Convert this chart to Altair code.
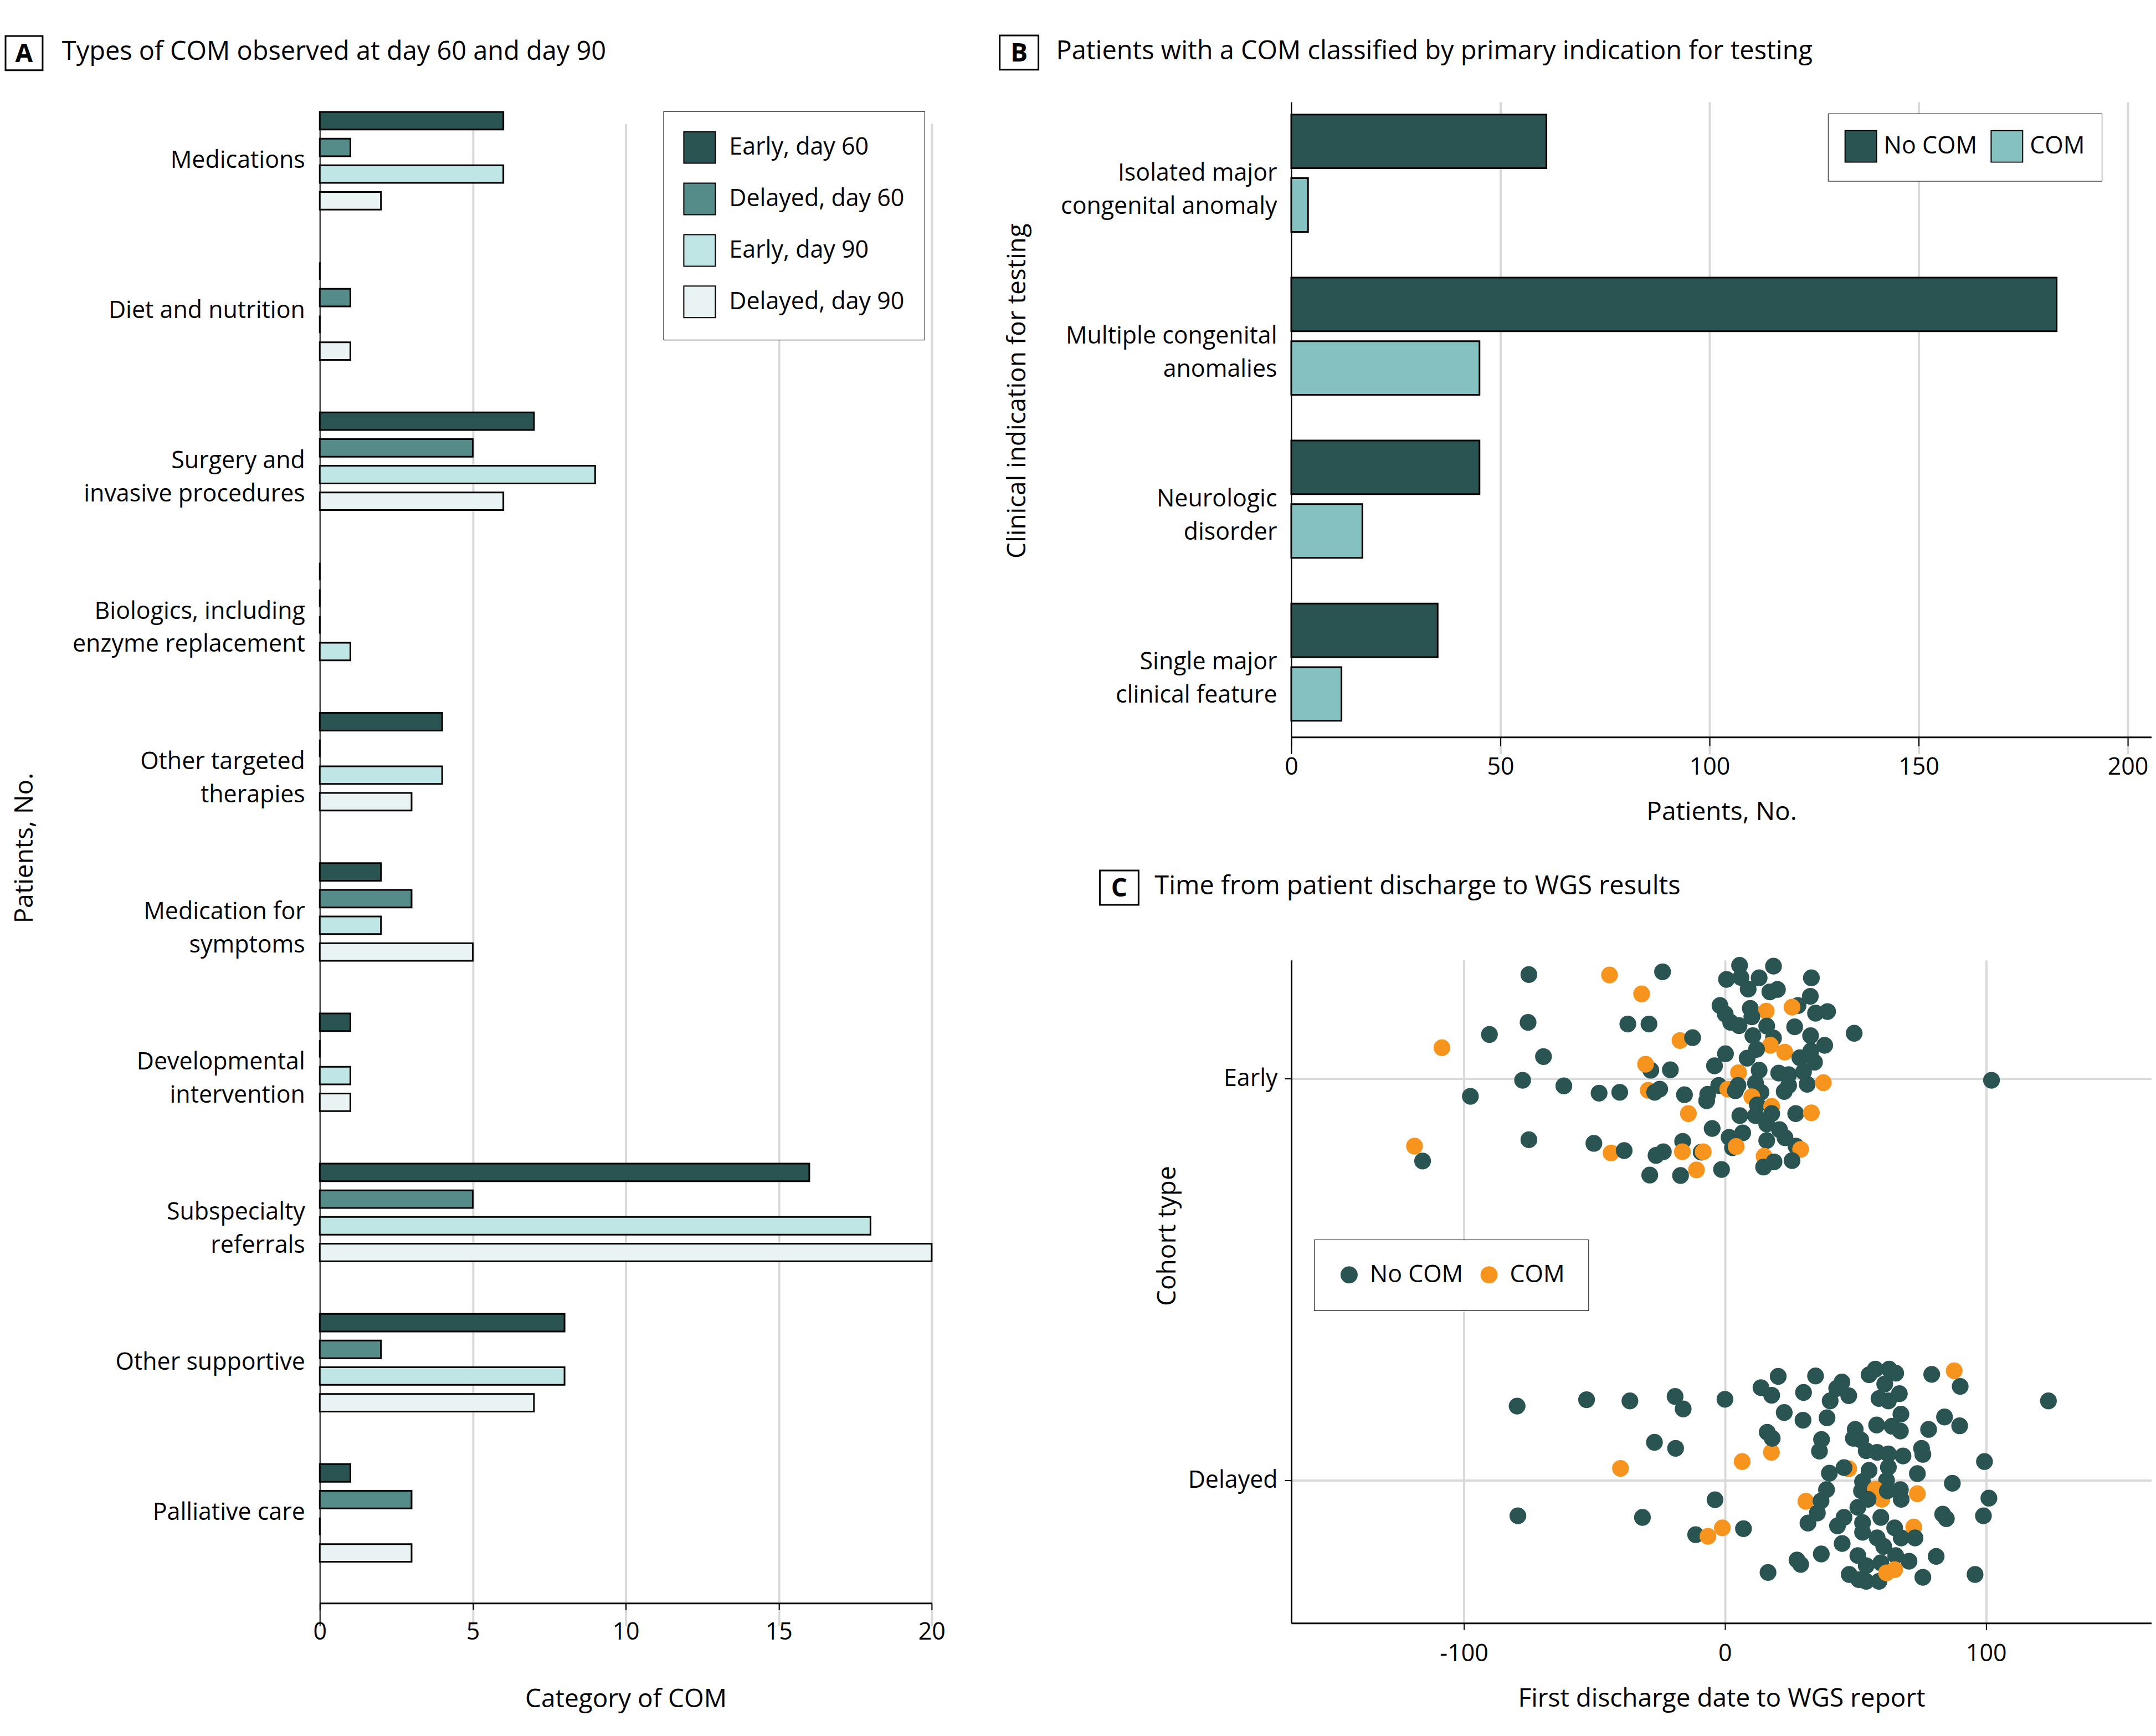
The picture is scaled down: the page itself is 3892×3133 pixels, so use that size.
import altair as alt
import pandas as pd

FONT = "Open Sans"
GRID = "#d9d9d9"
DARK = "#2a5452"

# ---------------- Panel A data ----------------
a_categories = [
    "Medications",
    "Diet and nutrition",
    "Surgery and|invasive procedures",
    "Biologics, including|enzyme replacement",
    "Other targeted|therapies",
    "Medication for|symptoms",
    "Developmental|intervention",
    "Subspecialty|referrals",
    "Other supportive",
    "Palliative care",
]
a_groups = ["Early, day 60", "Delayed, day 60", "Early, day 90", "Delayed, day 90"]
a_colors = [DARK, "#558c8a", "#bfe6e4", "#e9f3f4"]
a_early60 = [6, 0, 7, 0, 4, 2, 1, 16, 8, 1]
a_delayed60 = [1, 1, 5, 0, 0, 3, 0, 5, 2, 3]
a_early90 = [6, 0, 9, 0, 4, 2, 1, 18, 8, 0]
a_delayed90 = [2, 1, 6, 1, 3, 5, 1, 20, 7, 3]
# fill used in the original drawing for the Delayed, day 90 bars
a_delayed90_fill = ["Delayed, day 90", "Delayed, day 90", "Delayed, day 90", "Early, day 90",
                    "Delayed, day 90", "Delayed, day 90", "Delayed, day 90", "Delayed, day 90",
                    "Delayed, day 90", "Delayed, day 90"]

# ---------------- Panel B data ----------------
b_categories = [
    "Isolated major|congenital anomaly",
    "Multiple congenital|anomalies",
    "Neurologic|disorder",
    "Single major|clinical feature",
]
b_status = ["No COM", "COM"]
b_nocom = [61, 183, 45, 35]
b_com = [4, 45, 17, 12]

# ---------------- Panel C data ----------------
c_status = ["No COM", "COM"]
early_days = [-75.1, -44.2, -31.9, -23.9, -75.4, -90.2, -108.4, -69.5, -37.2, -29.1, -77.5, -97.5, -61.7, -48.2,
              -40.3, -28.4, -30.4, -29.4, -26.9, -25.0, -75.1, -118.9, -115.8, -50.2, -43.6, -38.6, -26.4, -23.6,
              -28.8, -17.2, -12.4, -20.9, -15.5, -14.0, -4.9, -16.2, -16.3, -9.1, -8.3, -10.9, -17.0, -1.3,
              5.6, 18.6, 0.6, 6.1, 8.9, 13.1, 17.2, 20.1, 33.1, 32.7, 28.0, 25.7, 34.7, 39.3, 49.5, -1.9, 0.1, 2.2,
              5.4, 9.7, 15.8, 10.3, 16.0, 10.7, 26.7, 32.8, 18.6, 17.4, 22.9, 38.2, 32.9, 28.7, 34.3, 12.1, 8.5,
              0.2, -4.0, 5.2, 13.1, 20.6, 24.4, 30.1, 31.5, 37.7, 24.4, 22.7, -2.4, -6.6, -7.0, 1.1, 4.0, 5.0,
              11.7, 13.8, 10.3, 12.4, 17.9, 5.7, 11.7, 17.9, 27.1, 33.1, 6.8, 1.6, 2.9, 4.3, 16.0, 20.9, 16.0,
              23.0, 27.2, 29.0, 15.0, 14.8, 18.8, 25.7, 102.1]
early_jitter = [25.9, 25.8, 21.1, 26.6, 14.0, 11.0, 7.7, 5.5, 13.6, 13.6, -0.4, -4.4, -1.8, -3.6, -3.4, 2.1, 3.6,
                -2.9, -3.4, -2.6, -15.2, -16.8, -20.5, -16.1, -18.5, -17.9, -19.1, -18.2, -24.0,
                9.5, 10.2, 2.2, -4.0, -8.7, -12.4, -15.6, -18.2, -18.3, -18.2, -22.7, -24.1, -22.6,
                28.2, 28.0, 24.7, 25.2, 22.3, 25.1, 21.6, 22.2, 25.1, 20.5, 18.2, 17.8, 16.3, 16.7, 11.3, 18.2,
                16.1, 14.0, 13.2, 17.5, 16.8, 15.4, 13.1, 10.7, 12.9, 10.7, 10.1, 8.3, 6.6, 8.3, 6.9, 5.2, 4.1,
                7.3, 5.1, 6.2, 3.2, 1.5, 2.1, 1.4, 1.0, 1.7, -1.4, -1.0, -1.7, -3.2, -1.7, -3.9, -5.5, -2.6, -3.0,
                -1.7, -1.1, -3.4, -4.5, -6.5, -6.9, -9.2, -9.2, -8.7, -8.7, -8.5, -13.5, -14.6, -17.2, -16.9,
                -11.3, -12.7, -15.4, -14.7, -16.8, -17.6, -19.3, -22.0, -20.7, -20.4, -0.4]
early_com = [0, 1, 1, 0, 0, 0, 1, 0, 0, 0, 0, 0, 0, 0, 0, 0, 1, 1, 0, 0, 0, 1, 0, 0, 1, 0, 0, 0, 0,
             1, 0, 0, 0, 1, 0, 0, 1, 0, 1, 1, 0, 0,
             0, 0, 0, 0, 0, 0, 0, 0, 0, 0, 0, 1, 0, 0, 0, 0, 0, 0, 0, 0, 1, 0, 0, 0, 0, 0, 0, 1, 1,
             0, 0, 0, 0, 0, 0, 0, 0, 1, 0, 0, 0, 0, 0, 1, 0, 0, 0, 0, 0, 1, 0, 0, 0, 0, 1, 0, 1,
             0, 0, 0, 0, 1, 0, 0, 0, 1, 0, 0, 0, 0, 0, 1, 1, 0, 0, 0, 0]
delayed_days = [-79.6, -53.0, -36.4, -19.1, -16.0, 0.0, 13.8, -27.0, -18.9, -40.0, 6.6, 16.2, 17.8, -79.3, -31.6,
                -3.8, -11.2, -6.5, -1.0, 7.1, 16.5,
                17.9, 20.4, 30.1, 34.7, 44.8, 42.8, 40.3, 47.4, 22.7, 29.9, 39.1, 55.2, 57.6, 62.9, 65.4, 61.2,
                66.8, 59.0, 62.6, 79.2, 87.8, 90.1, 67.4, 58.1, 49.9, 64.0, 67.2, 78.0, 84.1, 89.9, 18.1, 37.0,
                36.2, 49.2, 52.0, 54.1, 58.3, 62.6, 68.2, 75.3, 75.8, 47.4, 45.6, 40.0, 55.2, 62.6, 73.7, 87.1,
                52.7, 61.9, 38.9, 52.3, 57.6, 60.1, 62.2, 67.2, 67.5, 73.7, 31.0, 36.8, 35.4, 31.8, 54.8, 50.9,
                45.6, 43.1, 52.7, 52.7, 59.7, 65.0, 72.3, 72.8, 67.5, 58.3, 60.8, 83.4, 84.8, 44.9, 36.9, 27.6,
                29.0, 50.9, 54.1, 47.6, 51.3, 54.1, 59.0, 59.7, 65.4, 70.5, 61.9, 65.0, 80.9, 75.8, 123.9, 99.4,
                101.1, 99.0, 95.8]
delayed_jitter = [18.5, 20.1, 19.8, 20.9, 17.8, 20.2, 23.1, 9.5, 8.0, 3.0, 4.7, 12.0, 7.0, -8.8, -9.2, -4.8,
                  -13.5, -13.9, -11.8, -12.0, -22.9,
                  21.2, 25.9, 21.9, 26.0, 24.5, 22.9, 19.8, 21.1, 16.9, 15.0, 15.6, 26.3, 27.7, 27.7, 26.7, 24.0,
                  21.6, 20.4, 19.8, 26.4, 27.3, 23.4, 16.5, 13.8, 12.7, 13.5, 12.3, 12.7, 15.8, 13.6, 10.5, 10.2,
                  7.3, 10.5, 10.1, 7.4, 7.0, 6.6, 6.1, 8.0, 6.5, 2.9, 3.2, 1.8, 2.5, 3.3, 1.7, -0.7, -0.3, 0.0,
                  -2.3, -2.6, -2.2, -4.7, -2.6, -2.3, -4.7, -3.3, -5.2, -5.1, -8.1, -10.6, -4.7, -6.7, -9.2,
                  -11.3, -10.5, -12.9, -9.2, -11.8, -11.6, -14.3, -14.3, -14.3, -16.4, -8.4, -9.5, -15.7, -18.3,
                  -19.8, -20.9, -18.7, -21.2, -23.4, -24.7, -25.1, -25.1, -20.5, -18.7, -20.1, -23.0, -22.2,
                  -18.9, -24.1, 19.8, 4.7, -4.4, -8.8, -23.4]
delayed_com = ([0, 0, 0, 0, 0, 0, 0, 0, 0, 1, 1, 0, 1, 0, 0, 0, 0, 1, 1, 0, 0]
               + [0] * 20 + [1] + [0] * 20 + [1] + [0] * 10
               + [1, 1, 0, 0, 0, 1, 1] + [0] * 11 + [1] + [0] * 19 + [1, 1] + [0] * 7)

# ---------------- Build tables ----------------
a_series = {"Early, day 60": a_early60, "Delayed, day 60": a_delayed60,
            "Early, day 90": a_early90, "Delayed, day 90": a_delayed90}
a_rows = []
for i, cat in enumerate(a_categories):
    for g in a_groups:
        fill = a_delayed90_fill[i] if g == "Delayed, day 90" else g
        a_rows.append({"category": cat, "group": g, "value": a_series[g][i], "fill": fill})
a_df = pd.DataFrame(a_rows)

b_rows = []
for i, cat in enumerate(b_categories):
    b_rows.append({"indication": cat, "status": "No COM", "value": b_nocom[i]})
    b_rows.append({"indication": cat, "status": "COM", "value": b_com[i]})
b_df = pd.DataFrame(b_rows)

c_rows = []
for d, j, c in zip(early_days, early_jitter, early_com):
    c_rows.append({"cohort": "Early", "days": d, "pos": 1 + j / 100.0, "status": c_status[c]})
for d, j, c in zip(delayed_days, delayed_jitter, delayed_com):
    c_rows.append({"cohort": "Delayed", "days": d, "pos": 0 + j / 100.0, "status": c_status[c]})
c_df = pd.DataFrame(c_rows)


def header(letter, text, box, text_xy):
    d = pd.DataFrame({"letter": [letter], "title": [text]})
    rect = alt.Chart(d).mark_rect(fill="white", stroke="black", strokeWidth=3).encode(
        x=alt.value(box[0]), x2=alt.value(box[1]), y=alt.value(box[2]), y2=alt.value(box[3]))
    let = alt.Chart(d).mark_text(font=FONT, fontSize=46, fontWeight="bold", align="center",
                                 baseline="middle", color="black").encode(
        x=alt.value((box[0] + box[1]) / 2), y=alt.value((box[2] + box[3]) / 2 + 2), text="letter:N")
    ttl = alt.Chart(d).mark_text(font=FONT, fontSize=47, align="left", baseline="middle",
                                 color="black").encode(
        x=alt.value(text_xy[0]), y=alt.value(text_xy[1]), text="title:N")
    return [rect, let, ttl]


zero_grid_color = {"condition": {"test": "datum.value === 0", "value": "black"}, "value": GRID}
zero_grid_width = {"condition": {"test": "datum.value === 0", "value": 2}, "value": 4}

# ---------------- Panel A ----------------
a_bars = alt.Chart(a_df).mark_bar(stroke="black", strokeWidth=3, opacity=1).encode(
    x=alt.X("value:Q", scale=alt.Scale(domain=[0, 20], nice=False),
            axis=alt.Axis(title="Category of COM", values=[0, 5, 10, 15, 20], grid=True,
                          gridColor=zero_grid_color, gridWidth=zero_grid_width,
                          tickSize=12, labelPadding=19, titlePadding=77, format="d")),
    y=alt.Y("category:N", sort=a_categories,
            scale=alt.Scale(range=[-41.25, 2673.75], paddingInner=0, paddingOuter=0),
            axis=alt.Axis(title="Patients, No.", labelExpr="split(datum.value, '|')", domain=False,
                          ticks=False, labelPadding=27, titleX=-533, titleY=1336, titleBaseline="middle",
                          titleAlign="center", labelLineHeight=60)),
    yOffset=alt.YOffset("group:N", sort=a_groups, scale=alt.Scale(paddingInner=0.34, paddingOuter=0.985)),
    color=alt.Color("fill:N", scale=alt.Scale(domain=a_groups, range=a_colors),
                    legend=alt.Legend(title=None, orient="none", legendX=621, legendY=5, direction="vertical",
                                      symbolType="square", symbolSize=3249, symbolStrokeColor="black",
                                      symbolStrokeWidth=2, symbolOpacity=1, labelFontSize=43,
                                      labelOffset=24, strokeColor="black", fillColor="white",
                                      padding=36, rowPadding=28, labelLimit=0)),
)
panel_a = alt.layer(a_bars, *header("A", "Types of COM observed at day 60 and day 90",
                                    (-568, -501, -131, -69), (-466, -102))).properties(width=1106, height=2701)

# ---------------- Panel B ----------------
b_bars = alt.Chart(b_df).mark_bar(stroke="black", strokeWidth=3, opacity=1).encode(
    x=alt.X("value:Q", scale=alt.Scale(domain=[0, 205.7], nice=False),
            axis=alt.Axis(title="Patients, No.", values=[0, 50, 100, 150, 200], grid=True,
                          gridColor=zero_grid_color, gridWidth=zero_grid_width,
                          tickSize=16, labelPadding=17, titlePadding=37)),
    y=alt.Y("indication:N", sort=b_categories,
            scale=alt.Scale(range=[-30.25, 1147.75], paddingInner=0, paddingOuter=0),
            axis=alt.Axis(title="Clinical indication for testing", labelExpr="split(datum.value, '|')",
                          domain=False, ticks=False, labelPadding=26, titleX=-495, titleY=510,
                          titleBaseline="middle", titleAlign="center", labelLineHeight=60)),
    yOffset=alt.YOffset("status:N", sort=b_status, scale=alt.Scale(paddingInner=0.157, paddingOuter=0.359)),
    color=alt.Color("status:N", scale=alt.Scale(domain=b_status, range=[DARK, "#85c1c0"]),
                    legend=alt.Legend(title=None, orient="none", legendX=970, legendY=9, direction="horizontal",
                                      symbolType="square", symbolSize=3249, symbolStrokeColor="black",
                                      symbolStrokeWidth=2, symbolOpacity=1, labelFontSize=43,
                                      labelOffset=12, strokeColor="black", fillColor="white",
                                      padding=30, columnPadding=21, labelLimit=0)),
)
panel_b = alt.layer(b_bars, *header("B", "Patients with a COM classified by primary indication for testing",
                                    (-527, -457, -132, -70), (-425, -103))).properties(width=1555, height=1136)

# ---------------- Panel C ----------------
c_points = alt.Chart(c_df).mark_circle(size=920, opacity=1).encode(
    x=alt.X("days:Q", scale=alt.Scale(domain=[-166.1, 163.4], nice=False, zero=False),
            axis=alt.Axis(title="First discharge date to WGS report", values=[-100, 0, 100], grid=True,
                          labelExpr="replace(datum.label, '\u2212', '-')", tickSize=12, labelPadding=22,
                          titlePadding=37)),
    y=alt.Y("pos:Q", scale=alt.Scale(domain=[-0.355, 1.295], nice=False, zero=False),
            axis=alt.Axis(title="Cohort type", values=[0, 1], grid=True,
                          labelExpr="datum.value == 1 ? 'Early' : 'Delayed'", tickSize=12, labelPadding=13,
                          titleX=-224, titleY=498, titleBaseline="middle", titleAlign="center")),
    color=alt.Color("status:N", scale=alt.Scale(domain=c_status, range=[DARK, "#f7941d"]),
                    legend=alt.Legend(title=None, orient="none", legendX=41, legendY=505, direction="horizontal",
                                      symbolType="circle", symbolSize=960, symbolOpacity=1, labelFontSize=43,
                                      labelOffset=16, strokeColor="black", fillColor="white",
                                      padding=42, columnPadding=25, labelLimit=0)),
)
panel_c = alt.layer(c_points, *header("C", "Time from patient discharge to WGS results",
                                      (-346, -276, -162, -100), (-247, -133))).properties(width=1555, height=1198)

right_col = alt.vconcat(panel_b, panel_c, spacing=81).resolve_scale(
    color="independent", yOffset="independent", x="independent", y="independent")

chart = alt.hconcat(
    panel_a,
    right_col,
    spacing=96,
).resolve_scale(
    color="independent", yOffset="independent", x="independent", y="independent"
).properties(
    padding={"left": 0, "top": 52, "right": 0, "bottom": 5}
).configure(
    font=FONT
).configure_view(
    stroke=None
).configure_axis(
    labelFont=FONT, titleFont=FONT, labelFontSize=43, titleFontSize=46, titleFontWeight="normal",
    labelColor="black", titleColor="black", gridColor=GRID, gridWidth=4, labelLimit=0, labelFlush=False,
    domainColor="black", domainWidth=3, tickColor="black", tickWidth=2
).configure_legend(
    labelFont=FONT, labelColor="black"
)

chart.save("out.html", embed_options={"renderer": "svg", "actions": False})
